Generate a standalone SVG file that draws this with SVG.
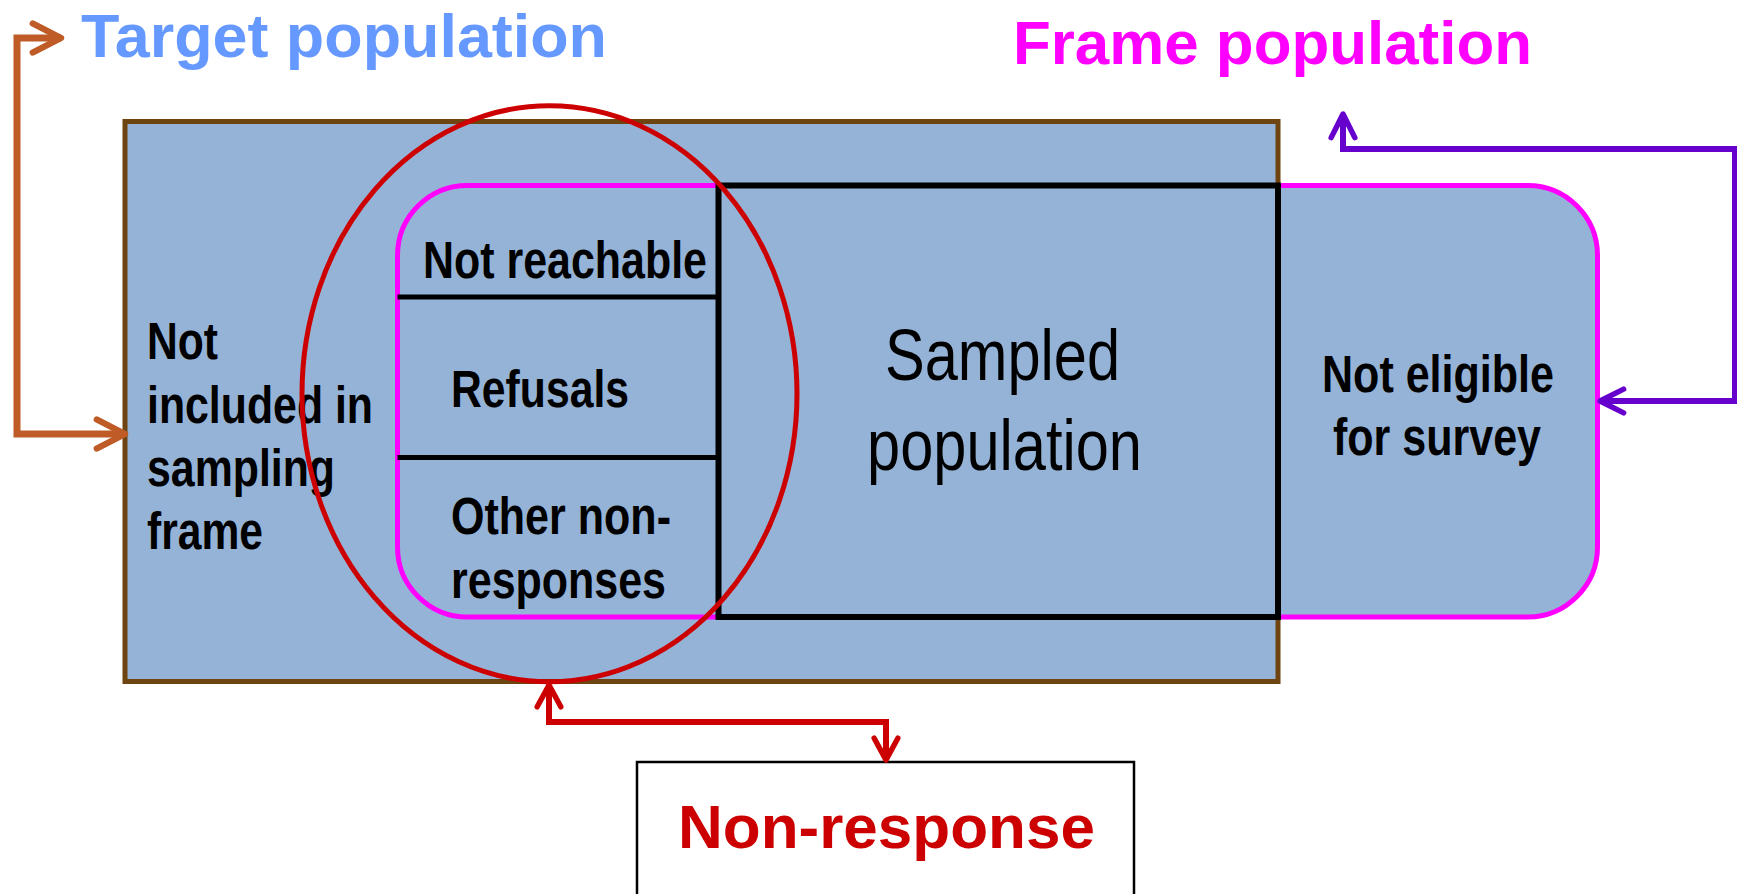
<svg xmlns="http://www.w3.org/2000/svg" width="1737" height="894" viewBox="0 0 1737 894">
  <style>
    .fill { fill: #95B3D7; }
    .lbl { font-family: "Liberation Sans", Arial, sans-serif; font-weight: bold; font-size: 51px; fill: #000; }
    .big { font-family: "Liberation Sans", Arial, sans-serif; font-size: 72px; fill: #000; }
    .title { font-family: "Liberation Sans", Arial, sans-serif; font-weight: bold; font-size: 62px; }
    .conn { fill: none; stroke-linejoin: miter; }
  </style>
  <defs>
    <marker id="headBrown" markerUnits="userSpaceOnUse" orient="auto-start-reverse" refX="0" refY="0" markerWidth="40" markerHeight="40" viewBox="-40 -20 44 40" overflow="visible">
      <path d="M-31,-16 L0,0 L-31,16" fill="none" stroke="#BE5B26" stroke-width="7" stroke-linecap="round" stroke-linejoin="round"/>
    </marker>
    <marker id="headPurple" markerUnits="userSpaceOnUse" orient="auto-start-reverse" refX="0" refY="0" markerWidth="40" markerHeight="40" viewBox="-40 -20 44 40" overflow="visible">
      <path d="M-26,-13 L0,0 L-26,13" fill="none" stroke="#6600CC" stroke-width="6" stroke-linecap="round" stroke-linejoin="round"/>
    </marker>
    <marker id="headRed" markerUnits="userSpaceOnUse" orient="auto-start-reverse" refX="0" refY="0" markerWidth="40" markerHeight="40" viewBox="-40 -20 44 40" overflow="visible">
      <path d="M-24,-13 L0,0 L-24,13" fill="none" stroke="#CC0000" stroke-width="6" stroke-linecap="round" stroke-linejoin="round"/>
    </marker>
  </defs>

  <rect width="1737" height="894" fill="#FFFFFF"/>

  <!-- headings -->
  <g id="target-population">
    <text class="title" x="81" y="57" fill="#6699FF" textLength="526" lengthAdjust="spacingAndGlyphs">Target population</text>
  </g>
  <g id="frame-population">
    <text class="title" x="1013" y="64" fill="#FF00FF" textLength="519" lengthAdjust="spacingAndGlyphs">Frame population</text>
  </g>

  <!-- target population box -->
  <g id="target-box">
    <rect class="fill" x="125" y="121.5" width="1153" height="560" stroke="#6E4510" stroke-width="5"/>
    <text class="lbl" x="147" y="359" textLength="71" lengthAdjust="spacingAndGlyphs">Not</text>
    <text class="lbl" x="147" y="423" textLength="226" lengthAdjust="spacingAndGlyphs">included in</text>
    <text class="lbl" x="147" y="486" textLength="188" lengthAdjust="spacingAndGlyphs">sampling</text>
    <text class="lbl" x="147" y="549" textLength="116" lengthAdjust="spacingAndGlyphs">frame</text>
  </g>

  <!-- frame population box -->
  <g id="frame-box">
    <rect class="fill" x="397.5" y="185.5" width="1200" height="431.5" rx="70" ry="70" stroke="#FF00FF" stroke-width="5"/>
    <text class="lbl" x="1322" y="392" textLength="232" lengthAdjust="spacingAndGlyphs">Not eligible</text>
    <text class="lbl" x="1333" y="455" textLength="208" lengthAdjust="spacingAndGlyphs">for survey</text>
  </g>

  <!-- sampled population -->
  <g id="sampled-population">
    <rect x="718.5" y="185.5" width="559.5" height="431.5" fill="none" stroke="#000" stroke-width="6"/>
    <text class="big" x="885" y="380" textLength="235" lengthAdjust="spacingAndGlyphs">Sampled</text>
    <text class="big" x="867" y="470" textLength="275" lengthAdjust="spacingAndGlyphs">population</text>
  </g>

  <!-- non-response categories -->
  <g id="not-reachable">
    <text class="lbl" x="423" y="278" textLength="284" lengthAdjust="spacingAndGlyphs">Not reachable</text>
  </g>
  <g id="refusals">
    <line x1="397.5" y1="297" x2="718" y2="297" stroke="#000" stroke-width="5"/>
    <text class="lbl" x="451" y="407" textLength="178" lengthAdjust="spacingAndGlyphs">Refusals</text>
  </g>
  <g id="other-non-responses">
    <line x1="397.5" y1="457.5" x2="718" y2="457.5" stroke="#000" stroke-width="5"/>
    <text class="lbl" x="451" y="534" textLength="220" lengthAdjust="spacingAndGlyphs">Other non-</text>
    <text class="lbl" x="451" y="598" textLength="215" lengthAdjust="spacingAndGlyphs">responses</text>
  </g>

  <!-- non-response ellipse -->
  <g id="non-response-ellipse">
    <ellipse cx="549.5" cy="393.75" rx="247.5" ry="288" fill="none" stroke="#CC0000" stroke-width="5"/>
  </g>

  <!-- non-response label box -->
  <g id="non-response">
    <rect x="637" y="762" width="497" height="200" fill="#FFFFFF" stroke="#000" stroke-width="2.5"/>
    <text class="title" x="678" y="848" fill="#CC0000" textLength="417" lengthAdjust="spacingAndGlyphs">Non-response</text>
  </g>

  <!-- connectors -->
  <g id="connectors">
    <path class="conn" d="M61,38 H17 V434 H125" stroke="#BE5B26" stroke-width="7" marker-start="url(#headBrown)" marker-end="url(#headBrown)"/>
    <path class="conn" d="M1343,114 V149 H1735 V401 H1600" stroke="#6600CC" stroke-width="6" marker-start="url(#headPurple)" marker-end="url(#headPurple)"/>
    <path class="conn" d="M549,685 V722 H886 V760" stroke="#CC0000" stroke-width="6" marker-start="url(#headRed)" marker-end="url(#headRed)"/>
  </g>
</svg>
